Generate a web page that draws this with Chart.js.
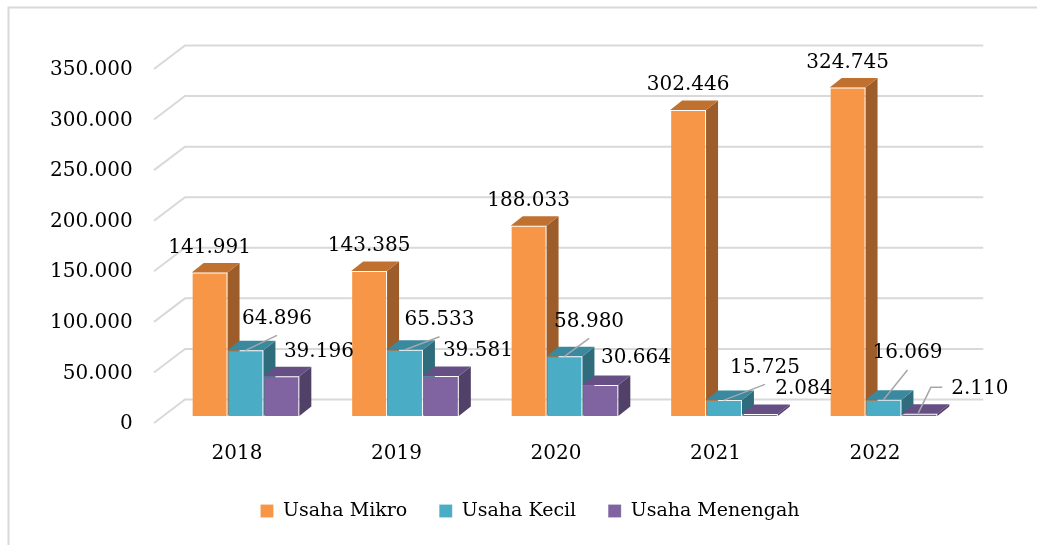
<!DOCTYPE html>
<html lang="id">
<head>
<meta charset="utf-8">
<title>Jumlah Usaha 2018-2022</title>
<script src="https://cdn.jsdelivr.net/npm/chart.js@4/dist/chart.umd.min.js"></script>
<style>
    html, body { margin: 0; padding: 0; background: #ffffff; }
    canvas { display: block; }
</style>
</head>
<body>
<canvas id="usahaChart" width="1037" height="545"></canvas>
<script>
const tahun = ['2018', '2019', '2020', '2021', '2022'];
const usahaMikro = [141991, 143385, 188033, 302446, 324745];
const usahaKecil = [64896, 65533, 58980, 15725, 16069];
const usahaMenengah = [39196, 39581, 30664, 2084, 2110];
const yTicks = [0, 50000, 100000, 150000, 200000, 250000, 300000, 350000];

// warna muka depan, atas, samping tiap seri
const warnaDepan = ['#F79646', '#4BACC6', '#8064A2'];
const warnaAtas = ['#C0712F', '#3A899E', '#664F85'];
const warnaSamping = ['#9D5D2B', '#2F6C7C', '#514067'];

// posisi label angka relatif ke tepi atas batang
const posisiLabel = [
    [{ dx: 0, dy: -25 }, { dx: 0, dy: -25 }, { dx: 0, dy: -25 }, { dx: 0, dy: -25 }, { dx: 0, dy: -25 }],
    [{ dx: 31.5, dy: -32, garis: 'lurus' }, { dx: 34.5, dy: -30, garis: 'lurus' }, { dx: 24.6, dy: -35, garis: 'lurus' },
     { dx: 41, dy: -32.7, garis: 'lurus' }, { dx: 24, dy: -46.7, garis: 'lurus' }],
    [{ dx: 37.5, dy: -25 }, { dx: 37, dy: -25 }, { dx: 35.6, dy: -27.4 }, { dx: 44, dy: -25 }, { dx: 60.5, dy: -25, garis: 'siku' }]
];

const KEDALAMAN_X = 12;
const KEDALAMAN_Y = 9.5;
const FONT = 'DejaVu Serif';

function formatAngka(v) {
    return String(v).replace(/\B(?=(\d{3})+(?!\d))/g, '.');
}

const bingkai = {
    id: 'bingkai',
    beforeDraw(chart) {
        const ctx = chart.ctx;
        ctx.save();
        ctx.strokeStyle = '#D9D9D9';
        ctx.lineWidth = 2;
        ctx.strokeRect(8.5, 7.5, 1100, 600);
        ctx.restore();
    }
};

const batang3d = {
    id: 'batang3d',
    beforeDatasetsDraw(chart) {
        const ctx = chart.ctx;
        const area = chart.chartArea;
        const y = chart.scales.y;

        // garis grid di dinding belakang + diagonal ke depan
        ctx.save();
        ctx.strokeStyle = '#D9D9D9';
        ctx.lineWidth = 2;
        y.ticks.forEach(t => {
            const py = y.getPixelForValue(t.value) - 16.5;
            ctx.beginPath();
            ctx.moveTo(area.left - 11.75, py + 23.5);
            ctx.lineTo(area.left + 19.25, py);
            ctx.lineTo(area.right + 20, py);
            ctx.stroke();
        });

        // muka samping dan atas; muka depan digambar oleh Chart.js
        chart.data.datasets.forEach((ds, di) => {
            chart.getDatasetMeta(di).data.forEach(bar => {
                const p = bar.getProps(['x', 'y', 'base', 'width'], true);
                const l = p.x - p.width / 2;
                const r = p.x + p.width / 2;
                ctx.fillStyle = warnaSamping[di];
                ctx.beginPath();
                ctx.moveTo(r, p.y);
                ctx.lineTo(r + KEDALAMAN_X, p.y - KEDALAMAN_Y);
                ctx.lineTo(r + KEDALAMAN_X, p.base - KEDALAMAN_Y);
                ctx.lineTo(r, p.base);
                ctx.closePath();
                ctx.fill();
                ctx.fillStyle = warnaAtas[di];
                ctx.beginPath();
                ctx.moveTo(l, p.y);
                ctx.lineTo(r, p.y);
                ctx.lineTo(r + KEDALAMAN_X, p.y - KEDALAMAN_Y);
                ctx.lineTo(l + KEDALAMAN_X, p.y - KEDALAMAN_Y);
                ctx.closePath();
                ctx.fill();
            });
        });
        ctx.restore();
    },
    afterDatasetsDraw(chart) {
        const ctx = chart.ctx;
        ctx.save();
        ctx.font = '20px "' + FONT + '"';
        ctx.textAlign = 'center';
        ctx.textBaseline = 'middle';
        chart.data.datasets.forEach((ds, di) => {
            chart.getDatasetMeta(di).data.forEach((bar, i) => {
                const pos = posisiLabel[di][i];
                const lx = bar.x + pos.dx;
                const ly = bar.y + pos.dy;
                const teks = formatAngka(ds.data[i]);
                ctx.strokeStyle = '#A6A6A6';
                ctx.lineWidth = 1.5;
                if (pos.garis === 'lurus') {
                    ctx.beginPath();
                    ctx.moveTo(bar.x, bar.y);
                    ctx.lineTo(lx, ly + 17);
                    ctx.stroke();
                } else if (pos.garis === 'siku') {
                    // garis penunjuk bersiku untuk label batang yang sangat pendek
                    const lebar = ctx.measureText(teks).width;
                    ctx.beginPath();
                    ctx.moveTo(bar.x - 1, bar.y - 1);
                    ctx.lineTo(bar.x + 11.5, ly - 1.5);
                    ctx.lineTo(lx - lebar / 2 - 9, ly - 1.5);
                    ctx.stroke();
                }
                ctx.fillStyle = '#000000';
                ctx.fillText(teks, lx, ly);
            });
        });
        ctx.restore();
    }
};

document.addEventListener('DOMContentLoaded', function () {
    const ctxUsaha = document.getElementById('usahaChart');

    new Chart(ctxUsaha, {
        type: 'bar',
        data: {
            labels: tahun,
            datasets: [
                { label: 'Usaha Mikro', data: usahaMikro, backgroundColor: warnaDepan[0] },
                { label: 'Usaha Kecil', data: usahaKecil, backgroundColor: warnaDepan[1] },
                { label: 'Usaha Menengah', data: usahaMenengah, backgroundColor: warnaDepan[2] }
            ]
        },
        options: {
            responsive: false,
            animation: false,
            datasets: {
                bar: {
                    categoryPercentage: 0.675,
                    barPercentage: 1,
                    borderWidth: 1,
                    borderColor: 'rgba(255,255,255,0.18)',
                    borderSkipped: 'bottom'
                }
            },
            layout: { padding: { top: 62, left: 23, right: 0, bottom: 14.5 } },
            plugins: {
                legend: {
                    position: 'bottom',
                    labels: {
                        color: '#000000',
                        font: { family: FONT, size: 19 },
                        boxWidth: 13,
                        boxHeight: 13,
                        padding: 32
                    }
                },
                tooltip: { enabled: false }
            },
            scales: {
                x: {
                    grid: { display: false, drawTicks: false },
                    border: { display: false },
                    ticks: {
                        color: '#000000',
                        font: { family: FONT, size: 20 },
                        padding: 26,
                        labelOffset: -8.5
                    },
                    afterFit(scale) { scale.height = 53.5; }
                },
                y: {
                    min: 0,
                    max: 350000,
                    grid: { display: false, drawTicks: false },
                    border: { display: false },
                    afterBuildTicks(scale) { scale.ticks = yTicks.map(v => ({ value: v })); },
                    ticks: {
                        color: '#000000',
                        font: { family: FONT, size: 20 },
                        padding: 33,
                        labelOffset: 8,
                        callback: v => formatAngka(v)
                    },
                    afterFit(scale) { scale.width = 142.75; }
                },
                // sumbu kosong di kanan, hanya memberi ruang
                kanan: {
                    axis: 'y',
                    position: 'right',
                    grid: { display: false, drawTicks: false },
                    border: { display: false },
                    ticks: { display: false },
                    afterFit(scale) { scale.width = 73.75; }
                }
            }
        },
        plugins: [bingkai, batang3d]
    });
});
</script>
</body>
</html>
